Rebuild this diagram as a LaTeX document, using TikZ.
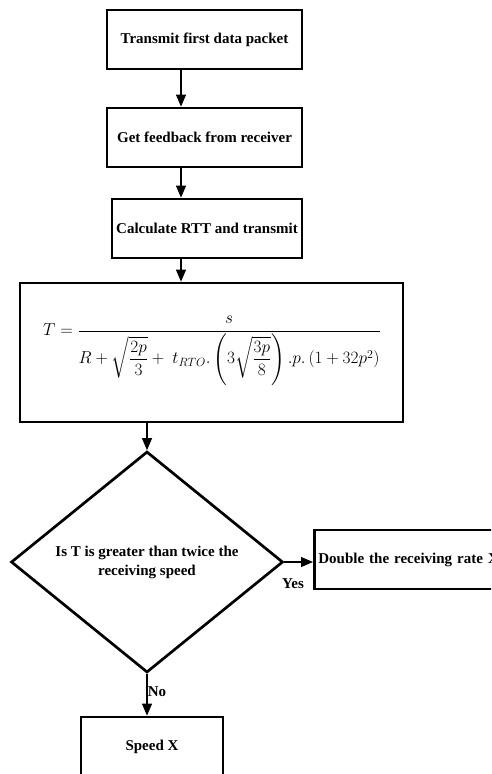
\documentclass[tikz,border=0pt]{standalone}
\usepackage{fontspec}
\setmainfont{Liberation Serif}
\usepackage{amsmath}
\usetikzlibrary{arrows.meta,shapes.geometric}

\begin{document}
\begin{tikzpicture}[x=1pt,y=-1pt,
  txt/.style={font=\fontsize{15}{19}\selectfont\bfseries},
  box/.style={draw,rectangle,line width=2.7pt,inner sep=0pt,txt},
  flow/.style={line width=1.1pt,-{Triangle[length=12pt,width=10pt]}},
  lbl/.style={txt,inner sep=0pt}]
\clip (0,0) rectangle (491,774);

% process steps
\node[box,minimum width=195pt,minimum height=59pt] (send) at (204.5,39.5) {Transmit first data packet};
\node[box,minimum width=195pt,minimum height=59pt] (fb) at (204.5,137.5) {Get feedback from receiver};
\node[box,minimum width=190pt,minimum height=59pt] (rtt) at (207,228.5) {Calculate RTT and transmit};
\node[box,minimum width=383pt,minimum height=139pt] (rate) at (211.5,352.5) {};
\node[inner sep=0pt,font=\fontsize{17.5}{21}\selectfont] (eq) at (212,351)
  {$T=\dfrac{s}{R+\sqrt{\dfrac{2p}{3}}+\ t_{RTO}.\left(3\sqrt{\dfrac{3p}{8}}\right).p.\left(1+32p^{2}\right)}$};

% decision and outcomes
\node[draw,shape=diamond,line width=2.7pt,inner sep=0pt,aspect=1.23,
      minimum width=272pt,minimum height=221pt,align=center,txt] (dec) at (147,562)
  {Is T is greater than twice the\\receiving speed};
\node[box,anchor=west,minimum height=59pt,text width=209pt,inner xsep=4pt,align=left] (dbl) at (313,559.5)
  {Double the receiving rate X};
\node[box,minimum width=142pt,minimum height=60pt] (speed) at (152,747) {Speed X};

% connectors
\coordinate (col) at (181,0);
\draw[flow] (send.south -| col) -- (fb.north -| col);
\draw[flow] (fb.south -| col) -- (rtt.north -| col);
\draw[flow] (rtt.south -| col) -- (rate.north -| col);
\draw[flow] (dec.north |- rate.south) -- (dec.north);
\draw[flow] (dec.east) -- (dec.east -| dbl.west);
\draw[flow] (dec.south) -- (dec.south |- speed.north);

\node[lbl] (yes) at (293,584) {Yes};
\node[lbl] (no) at (157,692) {No};
\end{tikzpicture}
\end{document}
